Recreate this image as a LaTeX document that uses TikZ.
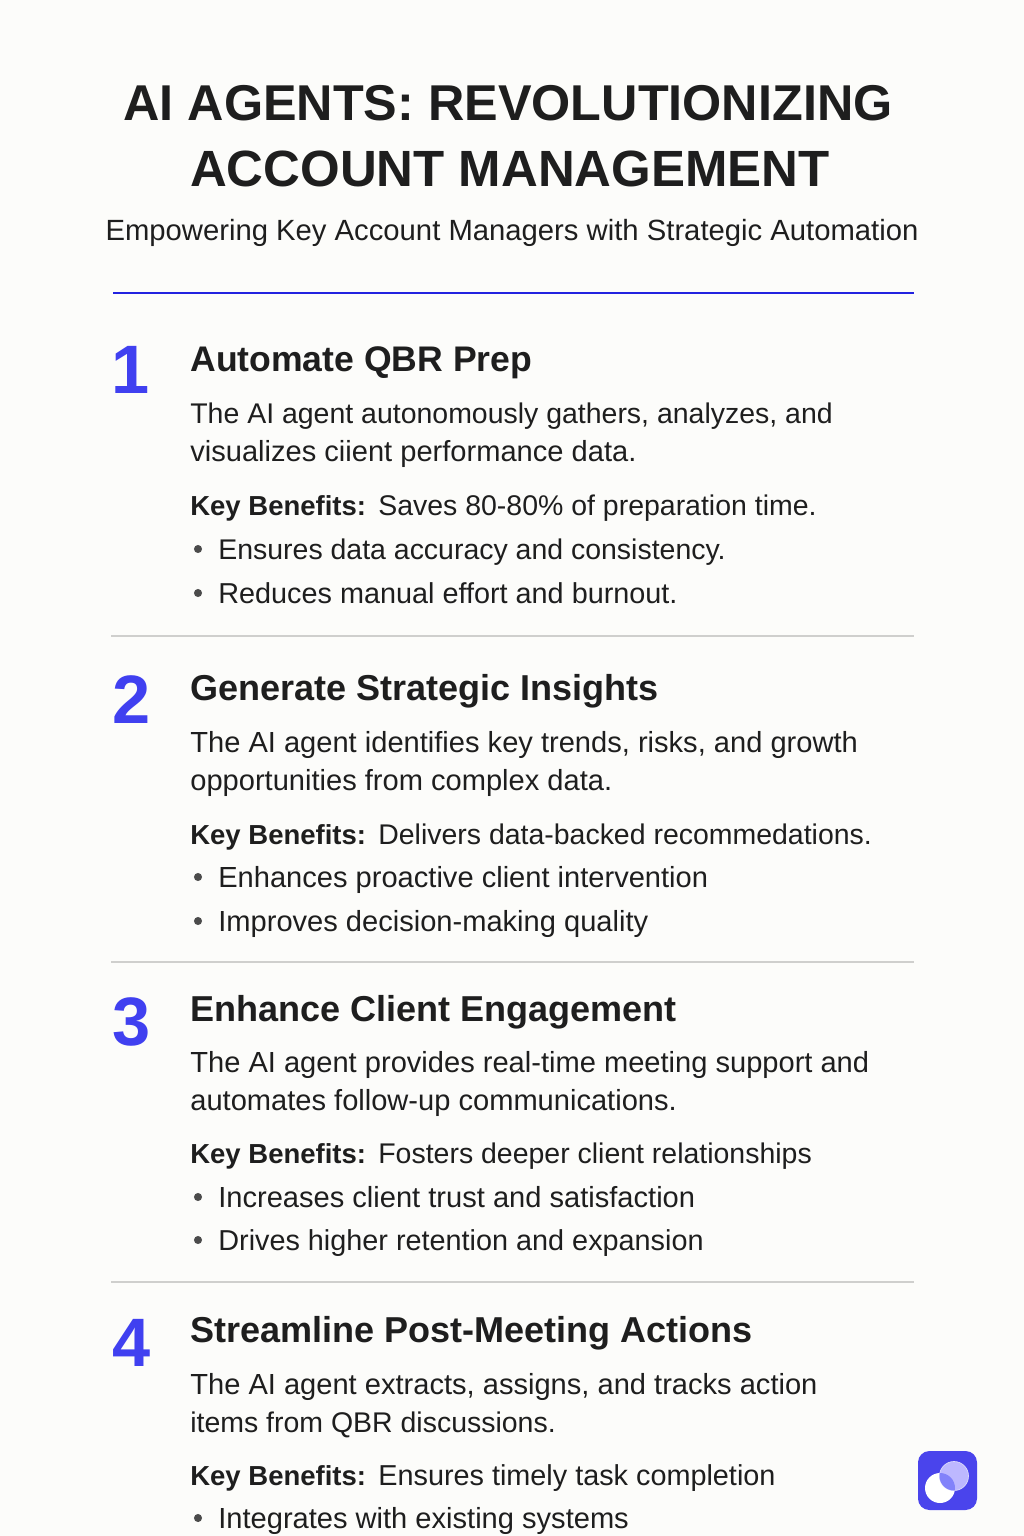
\documentclass[tikz,border=0pt]{standalone}
\usepackage{fontspec}
\setmainfont{Liberation Sans}
\definecolor{paper}{HTML}{FCFCFA}
\definecolor{ink}{HTML}{1E1E1E}
\definecolor{accent}{HTML}{4040F0}
\definecolor{rulec}{HTML}{2222E0}
\definecolor{sepc}{HTML}{CFCFCD}
\definecolor{iconc}{HTML}{4A44EC}
\definecolor{lavc}{HTML}{BDB8FF}
\definecolor{lensc}{HTML}{8282FA}
\tikzset{
  titletext/.style={anchor=base,font=\fontsize{28.65}{30}\selectfont\bfseries,text=ink,inner sep=0pt},
  titlewide/.style={anchor=base,font=\fontsize{29}{30}\selectfont\bfseries,text=ink,inner sep=0pt},
  subtext/.style={anchor=base,font=\fontsize{16.65}{16}\selectfont,text=ink,inner sep=0pt},
  numtext/.style={anchor=base west,font=\fontsize{39}{42}\selectfont\bfseries,text=accent,inner sep=0pt},
  headtext/.style={anchor=base west,font=\fontsize{20.5}{20}\selectfont\bfseries,text=ink,inner sep=0pt},
  headtight/.style={anchor=base west,font=\fontsize{20.25}{20}\selectfont\bfseries,text=ink,inner sep=0pt},
  bodytext/.style={anchor=base west,font=\fontsize{16.4}{16}\selectfont,text=ink,inner sep=0pt},
  bodytight/.style={anchor=base west,font=\fontsize{16.2}{16}\selectfont,text=ink,inner sep=0pt},
  bodywide/.style={anchor=base west,font=\fontsize{16.55}{16}\selectfont,text=ink,inner sep=0pt},
  keytext/.style={anchor=base west,font=\fontsize{15.65}{16}\selectfont\bfseries,text=ink,inner sep=0pt},
  dot/.style={circle,fill=ink!80,inner sep=0pt,minimum size=4.6pt},
  seprule/.style={draw=sepc,line width=0.7pt}
}
\begin{document}
\begin{tikzpicture}[x=0.02cm,y=-0.02cm]
\fill[paper] (0,0) rectangle (1024,1536);
\useasboundingbox (0,0) rectangle (1024,1536);
% title
\node[titletext] (title1) at (508,120) {AI AGENTS: REVOLUTIONIZING};
\node[titlewide] (title2) at (510,186) {ACCOUNT MANAGEMENT};
\node[subtext] (sub) at (512,240) {Empowering Key Account Managers with Strategic Automation};
\coordinate (r0a) at (113,293);
\coordinate (r0b) at (914,293);
\draw[rulec,line width=1.1pt] (r0a) -- (r0b);
% block 1
\node[numtext] (n1) at (111,393) {1};
\node[headtight] (h1) at (190,371) {Automate QBR Prep};
\node[bodytight] (b1a) at (190,423) {The AI agent autonomously gathers, analyzes, and};
\node[bodywide] (b1b) at (190,461) {visualizes ciient performance data.};
\node[keytext] (k1) at (190,515) {Key Benefits:};
\node[bodytight] (t1) at (378,515) {Saves 80-80\% of preparation time.};
\node[dot] (d1a) at (198,549) {};
\node[bodytight] (s1a) at (218,559) {Ensures data accuracy and consistency.};
\node[dot] (d1b) at (198,593) {};
\node[bodytext] (s1b) at (218,603) {Reduces manual effort and burnout.};
\coordinate (r1a) at (111,636);
\coordinate (r1b) at (914,636);
\draw[seprule] (r1a) -- (r1b);
% block 2
\node[numtext] (n2) at (112,723) {2};
\node[headtext] (h2) at (190,700) {Generate Strategic Insights};
\node[bodywide] (b2a) at (190,752) {The AI agent identifies key trends, risks, and growth};
\node[bodywide] (b2b) at (190,790) {opportunities from complex data.};
\node[keytext] (k2) at (190,844) {Key Benefits:};
\node[bodytight] (t2) at (378,844) {Delivers data-backed recommedations.};
\node[dot] (d2a) at (198,877) {};
\node[bodywide] (s2a) at (218,887) {Enhances proactive client intervention};
\node[dot] (d2b) at (198,921) {};
\node[bodywide] (s2b) at (218,931) {Improves decision-making quality};
\coordinate (r2a) at (111,962);
\coordinate (r2b) at (914,962);
\draw[seprule] (r2a) -- (r2b);
% block 3
\node[numtext] (n3) at (112,1045) {3};
\node[headtext] (h3) at (190,1021) {Enhance Client Engagement};
\node[bodywide] (b3a) at (190,1072) {The AI agent provides real-time meeting support and};
\node[bodywide] (b3b) at (190,1110) {automates follow-up communications.};
\node[keytext] (k3) at (190,1163) {Key Benefits:};
\node[bodytight] (t3) at (378,1163) {Fosters deeper client relationships};
\node[dot] (d3a) at (198,1197) {};
\node[bodywide] (s3a) at (218,1207) {Increases client trust and satisfaction};
\node[dot] (d3b) at (198,1240) {};
\node[bodytext] (s3b) at (218,1250) {Drives higher retention and expansion};
\coordinate (r3a) at (111,1282);
\coordinate (r3b) at (914,1282);
\draw[seprule] (r3a) -- (r3b);
% block 4
\node[numtext] (n4) at (112,1366) {4};
\node[headtext] (h4) at (190,1342) {Streamline Post-Meeting Actions};
\node[bodywide] (b4a) at (190,1394) {The AI agent extracts, assigns, and tracks action};
\node[bodytight] (b4b) at (190,1432) {items from QBR discussions.};
\node[keytext] (k4) at (190,1485) {Key Benefits:};
\node[bodytext] (t4) at (378,1485) {Ensures timely task completion};
\node[dot] (d4a) at (198,1518) {};
\node[bodywide] (s4a) at (218,1528) {Integrates with existing systems};
% logo
\fill[iconc,rounded corners=6.5pt] (918,1451) rectangle (977,1510);
\fill[white] (940,1488) circle (15);
\fill[lavc,draw=white!80!iconc,line width=0.4pt] (954,1476) circle (14.5);
\begin{scope}
\clip (940,1488) circle (15);
\fill[lensc] (954,1476) circle (14.5);
\end{scope}
\end{tikzpicture}
\end{document}
